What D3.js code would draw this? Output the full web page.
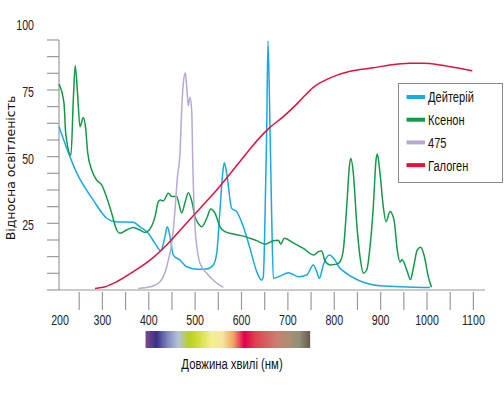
<!DOCTYPE html>
<html>
<head>
<meta charset="utf-8">
<script src="https://cdn.jsdelivr.net/npm/d3@7/dist/d3.min.js"></script>
<style>
  html, body { margin: 0; padding: 0; background: #fff; }
  svg { display: block; }
  .narrow { font-family: "Liberation Sans", Arial, sans-serif; }
</style>
</head>
<body>
<svg id="chart" width="504" height="394"></svg>
<script>
// ---- Data (wavelength nm, relative intensity) ----
const seriesNames = ["Дейтерій", "Ксенон", "475", "Галоген"];
const seriesColors = ["#19a8e3", "#129a48", "#b7a9d3", "#e1123b"];

const deuterium = [
  [206.5,61.2],[244.6,43.9],[280.4,33.7],[309.3,26.9],[327.2,25.6],[366.7,25.4],[381.1,23.7],
  [399,21.3],[413.5,17.5],[425.8,14.7],[435,20],[440,23.7],[445.8,20],[452.9,13.1],[467.4,11.2],
  [481.8,8.7],[503.4,7.8],[525,7.9],[539.2,9.4],[546.5,13.8],[553.6,30],[559.4,43.8],[562.9,47.7],
  [568,43.8],[578.9,30.6],[589.6,29.4],[603.9,23.7],[618.3,15.6],[632.8,6.9],[643.5,3.7],[647,5],
  [650.7,27.5],[654.3,60],[657.1,93.4],[661.5,60],[665.1,27.5],[668.6,4.4],[683,5.2],[700.9,6.5],
  [722.5,5],[740.6,5.6],[754.8,9.4],[762.1,6.9],[767.8,4.4],[776.4,9.4],[789.3,13.1],[801.6,11.2],
  [812.4,8.1],[898.6,1.6],[1006.5,0.9]
];
const xenon = [
  [206.5,77.2],[217.3,70],[220.9,58.8],[232.3,50.6],[237.3,71.2],[241.4,84.1],[246.4,73.8],
  [251.8,61.2],[258.9,64.7],[263.6,61.1],[268.4,51.4],[277,45],[287.8,41.2],[298.5,39.4],
  [308.9,34.9],[320.1,28.8],[330.9,22.5],[338,21.3],[352.4,22.5],[366.7,23.4],[381.1,22.5],
  [391.9,21.6],[402.7,22.9],[413.5,27.5],[420.6,33.1],[425.3,33.7],[431.4,33.4],[442.2,36.3],
  [449.5,35.1],[460.3,35.1],[465.2,32.2],[471,28.9],[478.2,32.8],[485.3,36.5],[492.6,33.4],
  [499.7,27.5],[506.8,25],[514.2,23.7],[525,26.9],[533.6,30.4],[542.8,28.8],[553.6,23.7],
  [564.4,21.9],[582.3,21],[603.9,20.2],[618.3,19.4],[632.8,18.5],[650.7,17.2],[668.6,18.5],
  [679.4,18.7],[684.5,17.2],[692.3,19.4],[711.7,17.7],[733.3,15.6],[756.3,13.1],[765.6,14.4],
  [772.9,14.6],[780,10.9],[790.8,9.4],[805.3,9.7],[812.4,10.6],[819.5,15],[826.8,31.2],
  [832.5,46.2],[835.5,49.4],[841.1,43.8],[848.4,25],[855.5,12.5],[862.6,6.3],[870,7.5],
  [877.1,16.2],[884.2,31.2],[890,48.7],[892.8,51],[898.6,43.8],[905.7,31.2],[911.6,25.6],
  [920.2,29.4],[928.8,26.2],[935.9,15],[941.7,10.5],[946,11.4],[956.2,7.5],[964.4,3.9],
  [970.4,8.1],[979,15],[986.4,16],[993.5,13.1],[1002.8,5],[1009.7,1]
];
const led475 = [
  [377.5,0.6],[402.7,1.2],[424.3,3.1],[438.7,8.7],[442.2,11.2],[449.5,17.5],[456.6,30],
  [461.6,42],[467.4,51.3],[471,67.5],[474.5,77.5],[478.8,81.5],[481.8,76.2],[485.3,69.1],
  [488.9,72.3],[492.6,67.5],[494.8,48.7],[496.1,39.4],[499.7,23.7],[504.7,15],[510.5,10],
  [525,6.3],[542.9,3.1],[560.8,1]
];
const halogen = [
  [284.1,0.6],[302,1],[330.9,3.1],[366.7,6.9],[402.7,11.2],[438.7,16.9],[474.5,23.7],
  [510.5,30.6],[546.5,37.5],[600.4,49],[625.4,54.4],[657.8,60.4],[690.1,65],[719,69.7],
  [754.8,76],[797.9,80],[834,82],[884.2,83.3],[920.2,84.4],[963.3,85],[992,85],[1028,84.4],
  [1064,83.3],[1097.7,82.2]
];
const allSeries = [deuterium, xenon, led475, halogen];

const xTickValues = [200,250,300,350,400,450,500,550,600,650,700,750,800,850,900,950,1000,1050,1100];
const xTickLabels = [200,300,400,500,600,700,800,900,1000,1100];
const yTickLabels = [25,50,75,100];
const spectrumStops = ["#7b4a8c","#3c2f86","#7f86c0","#b4c4d6","#b6d21c","#d8e044","#f2f08e","#f6e6a0","#f0a462","#e2004e","#e0404e","#d86062","#c88070","#b08c74","#909078","#6a5a4a"];

// ---- Scales ----
const svg = d3.select("#chart");
const x = d3.scaleLinear().domain([200, 1100]).range([56, 473.4]);
const y = d3.scaleLinear().domain([0, 100]).range([290, 23.3]);
const axisX0 = 206.5, axisX1 = 1125, yAxisTop = 93.75;
const gray = "#9a9a9a";

// condensed text helper (emulates a narrow typeface)
function narrowText(sel, px, py, sx) {
  return sel.attr("class", "narrow").attr("x", 0).attr("y", 0)
    .attr("transform", (d, i) => `translate(${typeof px === "function" ? px(d, i) : px},${typeof py === "function" ? py(d, i) : py}) scale(${sx},1)`);
}

// ---- Y axis ----
svg.append("line").attr("x1", x(axisX0)).attr("x2", x(axisX0))
  .attr("y1", y(0)).attr("y2", y(yAxisTop)).attr("stroke", gray).attr("stroke-width", 1.2);
svg.selectAll(".ytick").data(d3.range(0, yAxisTop + 0.01, 6.25)).join("line")
  .attr("x1", x(axisX0) - 12).attr("x2", x(axisX0))
  .attr("y1", d => y(d)).attr("y2", d => y(d))
  .attr("stroke", gray).attr("stroke-width", 1.2);
narrowText(svg.selectAll(".ylab").data(yTickLabels).join("text"), 34, d => y(d) + 2, 0.76)
  .attr("dy", "0.35em").attr("text-anchor", "end")
  .attr("font-size", 14).attr("fill", "#222").text(d => d);

// ---- X axis ----
svg.append("line").attr("x1", x(axisX0)).attr("x2", x(axisX1))
  .attr("y1", y(0)).attr("y2", y(0)).attr("stroke", gray).attr("stroke-width", 1.2);
svg.selectAll(".xtick").data(xTickValues.filter(d => d > axisX0)).join("line")
  .attr("x1", d => x(d)).attr("x2", d => x(d))
  .attr("y1", 292).attr("y2", 310)
  .attr("stroke", gray).attr("stroke-width", 1.2);
narrowText(svg.selectAll(".xlab").data(xTickLabels).join("text"),
    (d, i) => x(d) + (i === 0 ? 4 : 0), 325, 0.76)
  .attr("text-anchor", "middle").attr("font-size", 14).attr("fill", "#222").text(d => d);

// ---- Spectrum bar ----
const grad = svg.append("defs").append("linearGradient").attr("id", "spec")
  .attr("x1", "0%").attr("x2", "100%");
spectrumStops.forEach((c, i) => grad.append("stop")
  .attr("offset", (i / (spectrumStops.length - 1) * 100) + "%").attr("stop-color", c));
svg.append("rect").attr("x", x(393)).attr("y", 331)
  .attr("width", x(748) - x(393)).attr("height", 17).attr("fill", "url(#spec)");

// ---- Axis titles ----
narrowText(svg.append("text"), 232, 369, 0.78)
  .attr("text-anchor", "middle").attr("font-size", 14.5).attr("fill", "#111")
  .text("Довжина хвилі (нм)");
svg.append("text").attr("transform", "translate(15,168) rotate(-90)")
  .attr("text-anchor", "middle").attr("font-family", "DejaVu Sans, sans-serif")
  .attr("font-size", 12.5).attr("fill", "#111").text("Відносна освітленість");

// ---- Lines ----
const line = d3.line().x(d => x(d[0])).y(d => y(d[1])).curve(d3.curveMonotoneX);
allSeries.forEach((s, i) => {
  svg.append("path").datum(s).attr("d", line)
    .attr("fill", "none").attr("stroke", seriesColors[i]).attr("stroke-width", 1.5)
    .attr("stroke-linejoin", "round");
});

// ---- Legend ----
const lg = svg.append("g");
lg.append("rect").attr("x", 398.5).attr("y", 83.5).attr("width", 104).attr("height", 99)
  .attr("fill", "#fff").attr("stroke", "#8a8a8a").attr("stroke-width", 1);
seriesNames.forEach((n, i) => {
  const cy = 97 + i * 22.7;
  lg.append("line").attr("x1", 406.5).attr("x2", 425).attr("y1", cy).attr("y2", cy)
    .attr("stroke", seriesColors[i]).attr("stroke-width", 4);
  narrowText(lg.append("text"), 428, cy, 0.74)
    .attr("dy", "0.36em").attr("font-size", 15).attr("fill", "#111").text(n);
});
</script>
</body>
</html>
